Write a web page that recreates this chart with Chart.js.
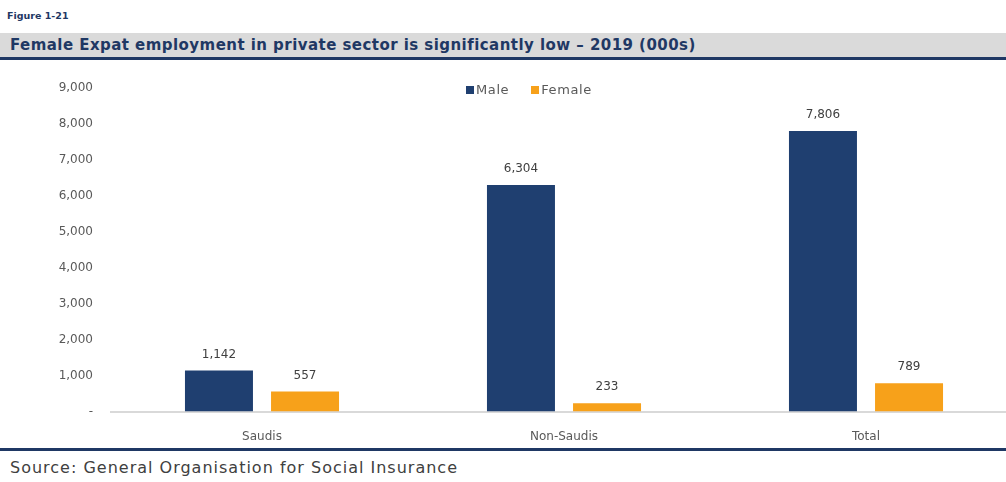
<!DOCTYPE html>
<html>
<head>
<meta charset="utf-8">
<script src="https://cdn.jsdelivr.net/npm/chart.js@4"></script>
<style>
  html, body { margin: 0; padding: 0; background: #fff; overflow: hidden; width: 1006px; height: 482px; }
  body { position: relative; font-family: "DejaVu Sans", sans-serif; }
  #fig { position: absolute; left: 7px; top: 10px; font-size: 9.5px; font-weight: bold; color: #1F3864; }
  #banner { position: absolute; left: 0; top: 33px; width: 1006px; height: 24px; background: #DADADA;
            border-bottom: 3px solid #1F3864; }
  #banner span { position: absolute; left: 10px; top: 3px; font-size: 15px; font-weight: bold; color: #1F3864;
                 letter-spacing: 0.45px; }
  #legend { position: absolute; left: 466px; top: 82px; font-size: 13px; color: #595959; letter-spacing: 0.6px; }
  #legend i { display: inline-block; width: 8px; height: 8px; margin-right: 2px; vertical-align: 0px; }
  #legend b { font-weight: normal; margin-right: 22px; }
  #wrap { position: absolute; left: 0; top: 62px; width: 1017px; height: 396px; }
  #footline { position: absolute; left: 0; top: 448px; width: 1006px; height: 3px; background: #1F3864; }
  #src { position: absolute; left: 10px; top: 458px; font-size: 16px; color: #404040; letter-spacing: 1px; }
</style>
</head>
<body>
<div id="fig">Figure 1-21</div>
<div id="banner"><span>Female Expat employment in private sector is significantly low – 2019 (000s)</span></div>
<div id="wrap"><canvas id="chart"></canvas></div>
<div id="legend"><i style="background:#1F3F70"></i><b>Male</b><i style="background:#F7A11A"></i><b>Female</b></div>
<div id="footline"></div>
<div id="src">Source: General Organisation for Social Insurance</div>
<script>
// ── 데이터 ────────────────────────────────────────
const categories = ["Saudis", "Non-Saudis", "Total"];
const maleValues = [1142, 6304, 7806];
const femaleValues = [557, 233, 789];
const yTicks = [0, 1000, 2000, 3000, 4000, 5000, 6000, 7000, 8000, 9000];

const MALE_COLOR = "#1F3F70";
const FEMALE_COLOR = "#F7A11A";

// ── 막대 위 값 표시 ────────────────────────────────
const valueLabels = {
  id: "valueLabels",
  afterDatasetsDraw(chart) {
    const ctx = chart.ctx;
    ctx.save();
    ctx.font = "12px 'DejaVu Sans'";
    ctx.fillStyle = "#404040";
    ctx.textAlign = "center";
    ctx.textBaseline = "bottom";
    chart.data.datasets.forEach((ds, i) => {
      chart.getDatasetMeta(i).data.forEach((bar, j) => {
        ctx.fillText(ds.data[j].toLocaleString("en-US"), bar.x, bar.y - 10);
      });
    });
    ctx.restore();
  },
};

new Chart(document.getElementById("chart"), {
  type: "bar",
  data: {
    labels: categories,
    datasets: [
      { label: "Male", data: maleValues, backgroundColor: MALE_COLOR },
      { label: "Female", data: femaleValues, backgroundColor: FEMALE_COLOR },
    ],
  },
  options: {
    responsive: true,
    maintainAspectRatio: false,
    animation: false,
    categoryPercentage: 0.57,
    barPercentage: 0.79,
    layout: { padding: { top: 26, right: 0, bottom: 4 } },
    plugins: { legend: { display: false }, tooltip: { enabled: false } },
    scales: {
      x: {
        grid: { display: false },
        border: { color: "#D9D9D9", width: 2 },
        ticks: { color: "#595959", font: { family: "DejaVu Sans", size: 12 }, padding: 10 },
      },
      y: {
        min: 0,
        max: 9000,
        afterBuildTicks: s => { s.ticks = yTicks.map(v => ({ value: v })); },
        afterFit: s => { s.width = 111; },
        grid: { display: false },
        border: { display: false },
        ticks: {
          color: "#595959",
          font: { family: "DejaVu Sans", size: 12 },
          padding: 10,
          callback: v => v === 0 ? "-" : v.toLocaleString("en-US"),
        },
      },
    },
  },
  plugins: [valueLabels],
});
</script>
</body>
</html>
